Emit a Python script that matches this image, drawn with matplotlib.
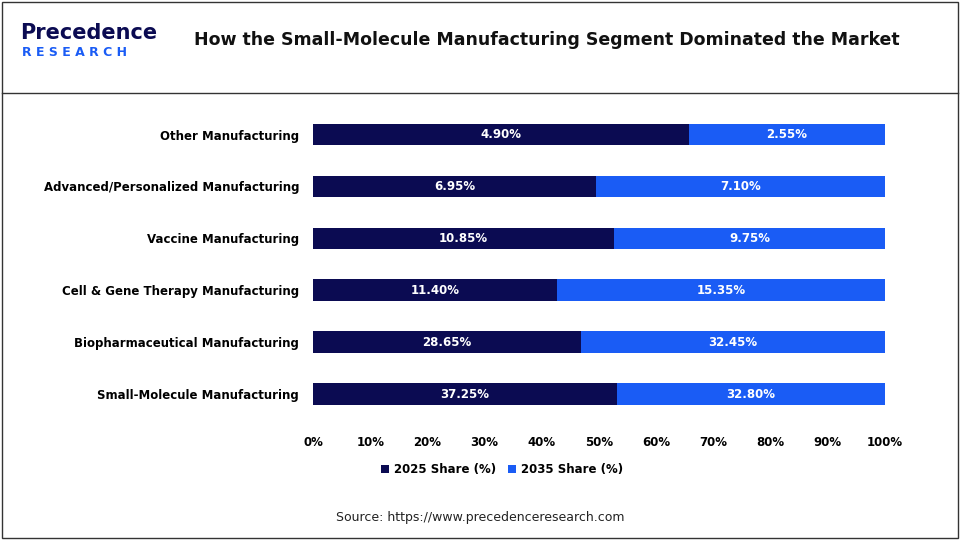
import matplotlib.pyplot as plt
import numpy as np
from matplotlib.patches import Rectangle

categories = ["Small-Molecule Manufacturing", "Biopharmaceutical Manufacturing",
              "Cell & Gene Therapy Manufacturing", "Vaccine Manufacturing",
              "Advanced/Personalized Manufacturing", "Other Manufacturing"]
share_2025 = [37.25, 28.65, 11.40, 10.85, 6.95, 4.90]
share_2035 = [32.80, 32.45, 15.35, 9.75, 7.10, 2.55]

c25 = '#0b0b52'
c35 = '#1a5cf5'

a = np.array(share_2025)
b = np.array(share_2035)
tot = a + b
pa = a / tot * 100
pb = b / tot * 100

fig = plt.figure(figsize=(9.6, 5.4), dpi=100)
fig.patch.set_facecolor('white')
ax = fig.add_axes([313/960, 1-428/540, 572/960, 322/540])

y = np.arange(len(categories))
ax.barh(y, pa, height=0.42, color=c25, label='2025 Share (%)')
ax.barh(y, pb, left=pa, height=0.42, color=c35, label='2035 Share (%)')
for i in range(len(categories)):
    ax.text(pa[i]/2, y[i], f"{share_2025[i]:.2f}%", ha='center', va='center',
            color='white', fontsize=8.5, fontweight='bold')
    ax.text(pa[i] + pb[i]/2, y[i], f"{share_2035[i]:.2f}%", ha='center', va='center',
            color='white', fontsize=8.5, fontweight='bold')

ax.set_yticks(y)
ax.set_yticklabels(categories, fontsize=8.5, fontweight='bold')
ax.set_xlim(0, 100)
ax.set_ylim(-0.65, 5.55)
ax.set_xticks(np.arange(0, 101, 10))
ax.set_xticklabels([f"{v}%" for v in range(0, 101, 10)], fontsize=8.5, fontweight='bold')
for s in ax.spines.values():
    s.set_visible(False)
ax.tick_params(axis='y', length=0, pad=10)
ax.tick_params(axis='x', length=0, pad=6)
ax.legend(loc='upper center', bbox_to_anchor=(0.33, -0.075), ncol=2, frameon=False,
          handlelength=0.7, handleheight=0.7, handletextpad=0.4, columnspacing=1.0,
          prop={'weight': 'bold', 'size': 8.5})

# header
fig.add_artist(Rectangle((0.002, 0.003), 0.996, 0.994, transform=fig.transFigure,
                         fill=False, edgecolor='#333333', linewidth=1))
fig.add_artist(plt.Line2D([0.002, 0.998], [1-93/540, 1-93/540], transform=fig.transFigure,
                          color='#333333', linewidth=1))
fig.text(547/960, 1-40/540, "How the Small-Molecule Manufacturing Segment Dominated the Market",
         ha='center', va='center', fontsize=12.5, fontweight='bold', color='#111111')
fig.text(20/960, 1-33/540, "Precedence", ha='left', va='center', fontsize=15,
         fontweight='bold', color='#0b0b52')
fig.text(22/960, 1-53/540, "R E S E A R C H", ha='left', va='center', fontsize=9,
         fontweight='bold', color='#1a5cf5')
fig.text(480/960, 1-517/540, "Source: https://www.precedenceresearch.com", ha='center',
         va='center', fontsize=9, color='#222222')

fig.savefig('out.png', dpi=100)
